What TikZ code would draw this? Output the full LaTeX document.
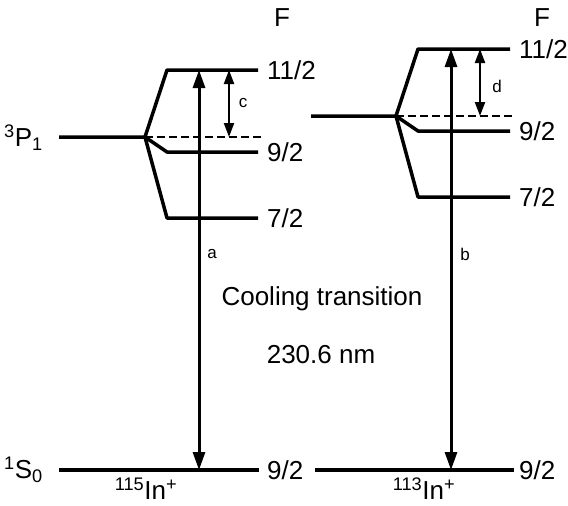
\documentclass[tikz,border=0pt]{standalone}
\usepackage{fontspec}
\setmainfont{Liberation Sans}
\usetikzlibrary{arrows.meta}
\tikzset{
  lvl/.style={line width=3.5pt, line join=round},
  virt/.style={line width=2pt, dash pattern=on 8pt off 4pt},
  trans/.style={{Triangle[length=18pt,width=12pt]}-{Triangle[length=18pt,width=12pt]}, line width=3pt},
  hfs/.style={{Triangle[length=14pt,width=10pt]}-{Triangle[length=14pt,width=10pt]}, line width=2.2pt},
  flbl/.style={anchor=west, inner sep=0pt, font=\fontsize{26}{30}\selectfont},
  term/.style={anchor=east, inner sep=0pt, font=\fontsize{26}{30}\selectfont},
  txt/.style={inner sep=0pt, font=\fontsize{26}{30}\selectfont},
  tag/.style={inner sep=0pt, font=\fontsize{17}{20}\selectfont},
}

\begin{document}
\begin{tikzpicture}[x=1pt,y=-1pt]
  \useasboundingbox[fill=white] (0,0) rectangle (568,506);
  % 115In+ levels
  \coordinate (pL) at (59,137);
  \coordinate (fL) at (145,137);
  \foreach \n/\y in {hi/70,mid/152,lo/218}{
    \coordinate (L\n s) at (167,\y);
    \coordinate (L\n e) at (258,\y);}
  \coordinate (Ldash) at (262,137);
  \coordinate (gLs) at (59,470);
  \coordinate (gLe) at (259,470);
  \draw[lvl] (Lhie) -- (Lhis) -- (fL) -- (Llos) -- (Lloe);
  \draw[lvl] (pL) -- (fL) -- (Lmids) -- (Lmide);
  \draw[virt] (fL) -- (Ldash);
  \draw[lvl] (gLs) -- (gLe);
  % 113In+ levels
  \coordinate (pR) at (311,116);
  \coordinate (fR) at (396,116);
  \foreach \n/\y in {hi/49,mid/131,lo/197}{
    \coordinate (R\n s) at (418,\y);
    \coordinate (R\n e) at (510,\y);}
  \coordinate (Rdash) at (513,116);
  \coordinate (gRs) at (315,470);
  \coordinate (gRe) at (514,470);
  \draw[lvl] (Rhie) -- (Rhis) -- (fR) -- (Rlos) -- (Rloe);
  \draw[lvl] (pR) -- (fR) -- (Rmids) -- (Rmide);
  \draw[virt] (fR) -- (Rdash);
  \draw[lvl] (gRs) -- (gRe);
  % F labels
  \node[txt] (FL) at (282,18) {F};
  \node[txt] (FR) at (542,18) {F};
  \foreach \y/\f [count=\i] in {70/{11/2},152/{9/2},218/{7/2},470/{9/2}}{
    \node[flbl] (Lf\i) at (267,\y) {\f};}
  \foreach \y/\f [count=\i] in {49/{11/2},131/{9/2},197/{7/2},470/{9/2}}{
    \node[flbl] (Rf\i) at (519,\y) {\f};}
  % terms and isotopes
  \node[term] (P1) at (43,138) {\textsuperscript{3}P\textsubscript{1}};
  \node[term] (S0) at (43,470) {\textsuperscript{1}S\textsubscript{0}};
  \node[txt] (iso115) at (146,489) {\textsuperscript{115}In\textsuperscript{+}};
  \node[txt] (iso113) at (424,489) {\textsuperscript{113}In\textsuperscript{+}};
  % transitions
  \coordinate (aTop) at (199,70);
  \coordinate (aBot) at (199,470);
  \coordinate (bTop) at (451,49);
  \coordinate (bBot) at (451,470);
  \draw[trans] (aBot) -- (aTop);
  \draw[trans] (bBot) -- (bTop);
  \coordinate (cTop) at (229,70);
  \coordinate (cBot) at (229,137);
  \coordinate (dTop) at (480,49);
  \coordinate (dBot) at (480,116);
  \draw[hfs] (cBot) -- (cTop);
  \draw[hfs] (dBot) -- (dTop);
  \node[tag] (la) at (212,254) {a};
  \node[tag] (lb) at (465,254) {b};
  \node[tag] (lc) at (243,103) {c};
  \node[tag] (ld) at (497,86) {d};
  \node[txt] (cool) at (322,299) {Cooling transition};
  \node[txt] (wl) at (321,355) {230.6 nm};
\end{tikzpicture}
\end{document}
